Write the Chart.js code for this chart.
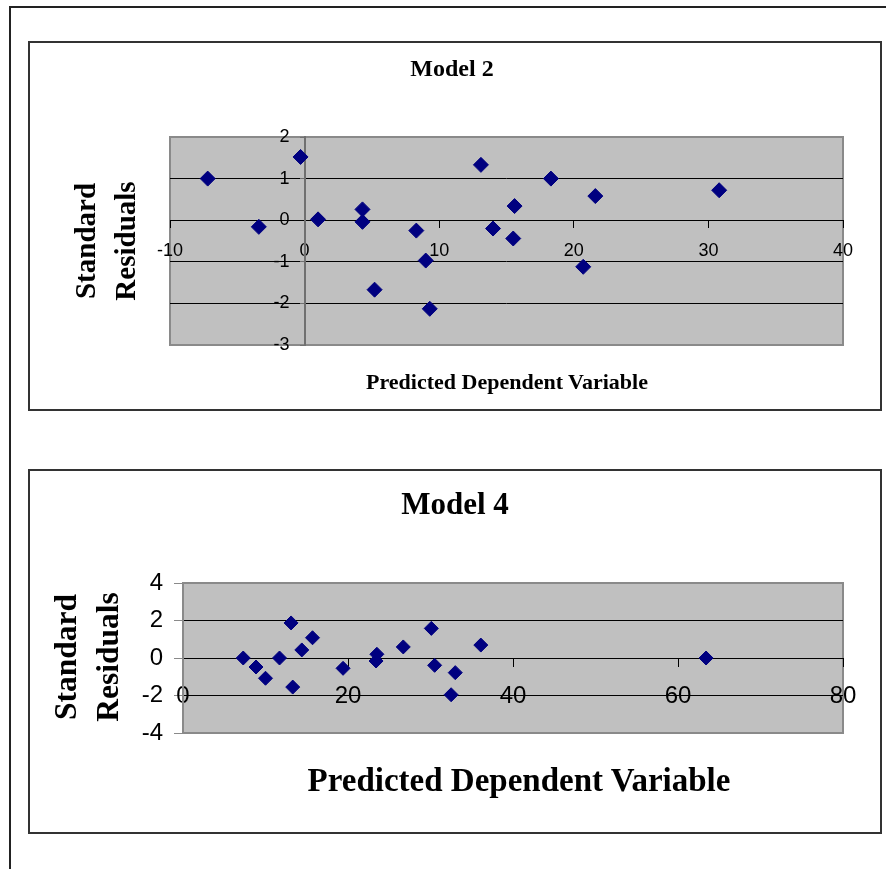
<!DOCTYPE html>
<html>
<head>
<meta charset="utf-8">
<script src="https://cdn.jsdelivr.net/npm/chart.js@4.4.1/dist/chart.umd.min.js"></script>
<style>
body{margin:0;background:#fff;width:886px;height:869px;overflow:hidden;position:relative;font-family:"Liberation Serif","Times New Roman",serif;color:#000}
#frame{position:absolute;left:9px;top:6px;width:900px;height:900px;border-left:2px solid #222;border-top:2px solid #222}
.box{position:absolute;left:28px;width:850px;border:2px solid #333}
canvas{position:absolute;left:28px}
.t{position:absolute;font-weight:bold;white-space:nowrap;transform:translateX(-50%)}
.yt{position:absolute;font-weight:bold;text-align:center;white-space:nowrap;transform:rotate(-90deg)}
</style>
</head>
<body>
<div id="frame"></div>

<div class="box" style="top:41px;height:366px"></div>
<canvas id="model2" width="854" height="370" style="top:41px"></canvas>
<div class="t" style="left:452px;top:56px;font-size:24px;line-height:24px">Model 2</div>
<div class="t" style="left:507px;top:371px;font-size:22px;line-height:22px">Predicted Dependent Variable</div>
<div class="yt" style="left:-5px;top:201px;width:220px;height:80px;font-size:29px;line-height:40px">Standard<br>Residuals</div>

<div class="box" style="top:469px;height:361px"></div>
<canvas id="model4" width="854" height="365" style="top:469px"></canvas>
<div class="t" style="left:455px;top:488px;font-size:31px;line-height:31px">Model 4</div>
<div class="t" style="left:519px;top:764px;font-size:33px;line-height:33px">Predicted Dependent Variable</div>
<div class="yt" style="left:-33px;top:615px;width:240px;height:84px;font-size:31.5px;line-height:42px">Standard<br>Residuals</div>

<script>
// Model 2 residual plot
var model2Pred  = [-7.2, -3.4, -0.3, 1.0, 4.3, 4.3, 5.2, 8.3, 9.0, 9.3, 13.1, 14.0, 15.6, 15.5, 18.3, 20.7, 21.6, 30.8];
var model2Resid = [1.0, -0.16, 1.52, 0.02, 0.26, -0.04, -1.67, -0.25, -0.97, -2.13, 1.33, -0.2, 0.34, -0.44, 1.0, -1.12, 0.58, 0.72];
var model2XRange = [-10, 40, 10];   // min, max, step
var model2YRange = [-3, 2, 1];

// Model 4 residual plot
var model4Pred  = [7.3, 8.85, 10.0, 11.7, 13.1, 13.3, 14.4, 15.7, 19.4, 23.5, 23.4, 26.7, 30.1, 30.5, 33.0, 32.5, 36.1, 63.4];
var model4Resid = [0.0, -0.48, -1.08, 0.0, 1.87, -1.55, 0.43, 1.08, -0.55, 0.2, -0.16, 0.59, 1.58, -0.39, -0.78, -1.96, 0.69, 0.0];
var model4XRange = [0, 80, 20];
var model4YRange = [-4, 4, 2];

var plotBg = {
  id: 'plotBg',
  beforeDraw: function (chart) {
    var a = chart.chartArea, ctx = chart.ctx;
    ctx.save();
    ctx.fillStyle = '#c0c0c0';
    ctx.fillRect(a.left, a.top, a.right - a.left, a.bottom - a.top);
    ctx.strokeStyle = '#8a8a8a';
    ctx.lineWidth = 2;
    ctx.strokeRect(a.left, a.top, a.right - a.left, a.bottom - a.top);
    ctx.restore();
  }
};

function points(xs, ys) {
  var out = [];
  for (var i = 0; i < xs.length; i++) out.push({x: xs[i], y: ys[i]});
  return out;
}

function hideEdges(range) {
  return function (ctx) {
    if (ctx.tick && (ctx.tick.value === range[0] || ctx.tick.value === range[1])) return 'rgba(0,0,0,0)';
    return '#000';
  };
}

// labels on an axis placed at a value sit flush with the line, so pad them with spaces
function spaced(n) {
  var pad = new Array(n + 1).join(' ');
  return function (v) { return v + pad; };
}

function residualChart(id, xs, ys, xr, yr, o) {
  return new Chart(document.getElementById(id), {
    type: 'scatter',
    data: {
      datasets: [{
        data: points(xs, ys),
        pointStyle: 'rectRot',
        pointRadius: o.radius,
        borderWidth: 1,
        backgroundColor: '#000080',
        borderColor: '#000080'
      }]
    },
    options: {
      responsive: false,
      animation: false,
      events: [],
      layout: {padding: o.padding},
      plugins: {legend: {display: false}, tooltip: {enabled: false}},
      scales: {
        x: {
          type: 'linear',
          position: {y: 0},
          min: xr[0], max: xr[1],
          ticks: {stepSize: xr[2], autoSkip: false, color: '#000', padding: o.xPad,
            font: {family: 'Liberation Sans, Arial', size: o.font}},
          grid: {drawOnChartArea: false, tickLength: o.xTick, tickColor: '#000'},
          border: {color: '#000', width: 1},
          afterFit: function (s) { s.height = 0; }
        },
        y: {
          type: 'linear',
          position: {x: 0},
          min: yr[0], max: yr[1],
          ticks: {stepSize: yr[2], autoSkip: false, color: '#000',
            font: {family: 'Liberation Sans, Arial', size: o.font},
            callback: spaced(o.ySpaces)},
          grid: {color: hideEdges(yr), tickColor: o.yAxisColor, tickLength: o.yTick, lineWidth: 1},
          border: {color: o.yAxisColor, width: 2},
          afterFit: function (s) { s.width = 0; }
        }
      }
    },
    plugins: [plotBg]
  });
}

residualChart('model2', model2Pred, model2Resid, model2XRange, model2YRange, {
  radius: 7.5, font: 18, xPad: 13, xTick: 7, yTick: 4, ySpaces: 3, yAxisColor: '#707070',
  padding: {left: 142, top: 96, right: 39, bottom: 66}
});

residualChart('model4', model4Pred, model4Resid, model4XRange, model4YRange, {
  radius: 7, font: 24, xPad: 16, xTick: 8, yTick: 8, ySpaces: 3, yAxisColor: '#8a8a8a',
  padding: {left: 155, top: 114, right: 39, bottom: 101}
});
</script>
</body>
</html>
